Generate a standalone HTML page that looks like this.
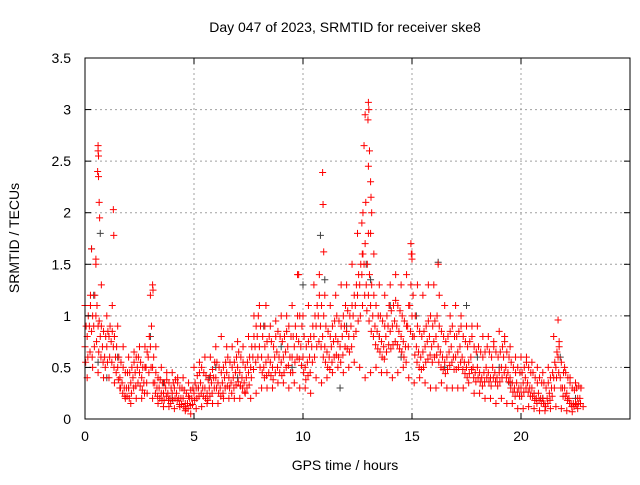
<!DOCTYPE html>
<html><head><meta charset="utf-8"><style>
body{margin:0;background:#fff;width:640px;height:480px;overflow:hidden}
svg{font-family:"Liberation Sans",sans-serif;font-size:14px}
</style></head><body>
<svg id="chart" width="640" height="480">
<text x="345" y="32" text-anchor="middle">Day 047 of 2023, SRMTID for receiver ske8</text>
<text x="345" y="470" text-anchor="middle">GPS time / hours</text>
<text transform="translate(19,238) rotate(-90)" text-anchor="middle">SRMTID / TECUs</text>
<g id="grid"></g><g id="marks"></g><g id="axes"></g>
</svg>
<script>
const xTicks=[0,5,10,15,20];
const yTicks=[0,0.5,1,1.5,2,2.5,3,3.5];
const yTickLabels=["0","0.5","1","1.5","2","2.5","3","3.5"];
const midVals=[0.7,0.8,0.9,0.85,0.9,1.0,0.9,0.8,0.7,0.6,0.7,0.8,0.75,0.7,0.6,0.5,0.4,0.35,0.3,0.3,0.3,0.35,0.4,0.45,0.5,0.45,0.4,0.35,0.5,0.6,0.7,0.5,0.35,0.3,0.3,0.25,0.25,0.3,0.25,0.2,0.25,0.3,0.25,0.2,0.2,0.2,0.15,0.15,0.2,0.2,0.25,0.3,0.3,0.35,0.3,0.3,0.25,0.3,0.35,0.4,0.4,0.35,0.3,0.35,0.4,0.45,0.4,0.35,0.4,0.45,0.5,0.45,0.4,0.35,0.4,0.45,0.5,0.6,0.7,0.8,0.7,0.6,0.5,0.55,0.6,0.55,0.5,0.6,0.65,0.6,0.55,0.6,0.65,0.7,0.6,0.6,0.7,0.8,0.75,0.7,0.6,0.5,0.55,0.6,0.7,0.8,0.9,1.0,0.9,0.8,0.7,0.65,0.6,0.7,0.75,0.8,0.75,0.7,0.8,0.9,0.85,0.8,0.9,1.0,1.1,1.2,1.3,1.4,1.5,1.3,1.2,1.1,1.0,0.9,0.85,0.8,0.75,0.7,0.8,0.9,0.85,0.9,0.95,0.9,0.85,0.8,0.75,0.7,0.9,1.1,1.0,0.8,0.7,0.65,0.6,0.65,0.7,0.75,0.8,0.7,0.75,0.8,0.7,0.65,0.6,0.55,0.6,0.65,0.7,0.6,0.6,0.65,0.7,0.6,0.55,0.5,0.55,0.6,0.5,0.45,0.5,0.45,0.4,0.45,0.5,0.45,0.4,0.5,0.45,0.4,0.45,0.5,0.6,0.5,0.45,0.4,0.35,0.3,0.35,0.3,0.3,0.35,0.4,0.35,0.3,0.3,0.25,0.2,0.25,0.2,0.2,0.15,0.2,0.25,0.3,0.4,0.5,0.6,0.4,0.3,0.3,0.25,0.2,0.15,0.15,0.15,0.2,0.2];
const upperMidVals=[0.9,1.0,1.1,1.0,1.2,1.1,0.95,0.9,0.85,0.8,0.85,0.9,0.85,0.8,0.7,0.6,0.55,0.5,0.45,0.45,0.45,0.5,0.55,0.6,0.6,0.55,0.5,0.5,0.65,0.8,0.9,0.6,0.45,0.4,0.38,0.35,0.35,0.38,0.35,0.3,0.35,0.38,0.35,0.3,0.3,0.28,0.25,0.22,0.28,0.3,0.35,0.42,0.45,0.5,0.45,0.42,0.38,0.42,0.48,0.55,0.55,0.5,0.45,0.5,0.55,0.6,0.55,0.5,0.55,0.6,0.65,0.6,0.55,0.5,0.55,0.6,0.7,0.8,0.9,1.0,0.9,0.8,0.7,0.75,0.8,0.75,0.7,0.8,0.85,0.8,0.75,0.8,0.85,0.9,0.8,0.8,0.9,1.0,1.0,0.9,0.8,0.7,0.75,0.8,0.9,1.0,1.1,1.2,1.1,1.0,0.9,0.85,0.8,0.9,0.95,1.0,0.95,0.9,1.0,1.1,1.05,1.0,1.1,1.2,1.3,1.4,1.5,1.6,1.7,1.5,1.4,1.3,1.2,1.1,1.0,1.0,0.95,0.9,1.0,1.1,1.05,1.1,1.15,1.1,1.05,1.0,0.95,0.9,1.1,1.3,1.2,1.0,0.9,0.85,0.8,0.85,0.9,0.95,1.0,0.9,0.95,1.0,0.9,0.85,0.8,0.75,0.8,0.85,0.9,0.8,0.8,0.85,0.9,0.8,0.75,0.7,0.75,0.8,0.7,0.65,0.7,0.65,0.6,0.65,0.7,0.65,0.6,0.7,0.65,0.6,0.65,0.7,0.75,0.65,0.6,0.55,0.5,0.45,0.5,0.45,0.45,0.5,0.55,0.5,0.45,0.45,0.4,0.35,0.4,0.35,0.35,0.3,0.35,0.4,0.45,0.55,0.65,0.75,0.55,0.45,0.45,0.4,0.35,0.3,0.28,0.3,0.32,0.3];
const lowerMidVals=[0.55,0.6,0.65,0.6,0.7,0.75,0.65,0.6,0.55,0.5,0.55,0.6,0.55,0.5,0.45,0.38,0.3,0.25,0.22,0.22,0.2,0.25,0.3,0.32,0.35,0.32,0.28,0.25,0.35,0.45,0.5,0.35,0.25,0.22,0.2,0.18,0.18,0.22,0.18,0.15,0.18,0.2,0.18,0.14,0.14,0.12,0.1,0.1,0.13,0.14,0.18,0.2,0.22,0.25,0.22,0.2,0.18,0.22,0.25,0.3,0.3,0.25,0.22,0.25,0.3,0.32,0.3,0.25,0.3,0.33,0.36,0.32,0.3,0.26,0.3,0.33,0.4,0.48,0.55,0.6,0.5,0.45,0.4,0.42,0.45,0.42,0.38,0.45,0.5,0.45,0.42,0.45,0.5,0.52,0.45,0.45,0.55,0.6,0.58,0.52,0.45,0.38,0.42,0.45,0.55,0.6,0.7,0.75,0.7,0.6,0.55,0.5,0.48,0.55,0.6,0.62,0.6,0.55,0.62,0.7,0.68,0.65,0.7,0.8,0.85,0.95,1.0,1.1,1.2,1.05,0.95,0.85,0.8,0.72,0.68,0.65,0.6,0.58,0.65,0.72,0.68,0.72,0.75,0.72,0.68,0.65,0.6,0.55,0.7,0.85,0.8,0.62,0.55,0.5,0.48,0.5,0.55,0.58,0.62,0.55,0.6,0.62,0.55,0.5,0.48,0.44,0.48,0.52,0.55,0.48,0.48,0.5,0.55,0.48,0.44,0.4,0.44,0.48,0.4,0.36,0.4,0.36,0.32,0.36,0.4,0.36,0.32,0.4,0.36,0.32,0.36,0.4,0.45,0.4,0.36,0.3,0.26,0.22,0.26,0.22,0.22,0.26,0.3,0.26,0.22,0.22,0.18,0.15,0.18,0.15,0.15,0.12,0.15,0.18,0.22,0.3,0.4,0.45,0.3,0.22,0.22,0.18,0.15,0.12,0.12,0.14,0.15,0.15];
const hiVals=[1.1,1.2,1.5,1.3,1.0,1.1,0.9,0.7,0.6,0.65,0.7,0.7,1.2,0.7,0.5,0.45,0.45,0.4,0.4,0.35,0.5,0.55,0.6,0.6,0.7,0.8,0.7,0.7,0.75,0.7,0.8,1.0,1.1,0.9,0.9,0.95,1.0,1.0,1.1,1.4,1.0,1.1,1.3,1.4,1.2,1.1,1.2,1.3,1.3,1.5,1.8,2.0,1.8,1.6,1.3,1.2,1.3,1.4,1.3,1.4,1.6,1.3,1.2,1.3,1.3,1.2,1.1,1.0,1.1,1.0,0.9,0.9,0.9,0.8,0.8,0.75,0.85,0.8,0.7,0.6,0.6,0.6,0.55,0.5,0.45,0.5,0.8,0.7,0.5,0.4,0.35,0.3];
const loVals=[0.4,0.5,0.45,0.4,0.4,0.35,0.3,0.2,0.15,0.2,0.2,0.25,0.2,0.15,0.12,0.12,0.1,0.12,0.08,0.05,0.1,0.12,0.15,0.15,0.15,0.2,0.2,0.2,0.2,0.25,0.2,0.25,0.3,0.3,0.3,0.35,0.35,0.3,0.35,0.3,0.3,0.25,0.4,0.35,0.4,0.45,0.5,0.45,0.5,0.55,0.5,0.4,0.45,0.5,0.45,0.45,0.4,0.45,0.5,0.4,0.35,0.4,0.35,0.3,0.3,0.35,0.3,0.3,0.3,0.3,0.35,0.25,0.25,0.2,0.2,0.15,0.2,0.15,0.15,0.1,0.1,0.12,0.1,0.08,0.08,0.1,0.12,0.1,0.08,0.07,0.1,0.12];
const spikeT=[0.6,0.6,0.62,0.58,0.62,0.65,0.67,0.5,0.3,1.3,1.32,3.1,3.12,10.9,10.92,10.95,12.85,12.8,12.88,13.0,13.02,12.98,13.05,13.0,13.1,13.12,13.15,13.1,12.7,12.72,14.95,14.97,15.0,16.2,21.7,9.8,8.3];
const spikeV=[2.65,2.6,2.55,2.4,2.35,2.1,1.95,1.55,1.65,2.03,1.78,1.3,1.25,2.39,2.08,1.62,2.95,2.65,2.1,3.07,3.0,2.9,2.6,2.45,2.3,2.15,2.0,1.8,1.9,1.6,1.7,1.6,1.55,1.5,0.96,1.4,1.1];
const darkT=[0.3,0.4,0.7,0.6,1,2,3,4,5.2,6,7,8.2,9,10,10.8,11,12,12.9,13.1,13.5,14,14.5,15.2,16.2,16.5,17.5,18,19,20,21,21.8,22.5,11.7,3.6,1.5,5.7,19.5,9.5];
const darkV=[1.65,1.2,1.8,0.55,0.4,0.3,0.8,0.2,0.3,0.5,0.4,0.9,0.7,1.3,1.78,1.35,0.9,1.5,1.35,0.8,1.1,0.6,1.0,1.52,0.5,1.1,0.6,0.5,0.3,0.2,0.6,0.2,0.3,0.35,0.6,0.4,0.35,0.5];

const L=85,R=630,T=58,B=419,ns="http://www.w3.org/2000/svg";
const xs=v=>L+v/25*(R-L), ys=v=>B-v/3.5*(B-T);
const grid=document.getElementById('grid'),marks=document.getElementById('marks'),axes=document.getElementById('axes');
function mk(tag,at,parent){const e=document.createElementNS(ns,tag);for(const k in at)e.setAttribute(k,at[k]);parent.appendChild(e);return e;}
xTicks.forEach(t=>{const x=xs(t);
 if(t>0){const g=mk('line',{x1:x,y1:T,x2:x,y2:B,stroke:'#a0a0a0','stroke-dasharray':'2,3'},grid);
 
 }
 mk('line',{x1:x,y1:B,x2:x,y2:B-6,stroke:'#000'},axes);mk('line',{x1:x,y1:T,x2:x,y2:T+6,stroke:'#000'},axes);
 const tx=mk('text',{x:x,y:B+22,'text-anchor':'middle'},axes);tx.textContent=t;
 
 });
yTicks.forEach((t,i)=>{const y=ys(t);
 if(t>0&&t<3.5){const g=mk('line',{x1:L,y1:y,x2:R,y2:y,stroke:'#a0a0a0','stroke-dasharray':'2,3'},grid);
 
 }
 mk('line',{x1:L,y1:y,x2:L+6,y2:y,stroke:'#000'},axes);mk('line',{x1:R,y1:y,x2:R-6,y2:y,stroke:'#000'},axes);
 const tx=mk('text',{x:L-14,y:y+5,'text-anchor':'end'},axes);tx.textContent=yTickLabels[i];
 
 });
const fr=mk('rect',{x:L,y:T,width:R-L,height:B-T,fill:'none',stroke:'#000'},axes);


function plus(t,v,c){const x=xs(t),y=ys(v);
 const p=mk('path',{d:`M${x-3.5},${y}h7M${x},${y-3.5}v7`,stroke:c,'stroke-width':1,fill:'none'},marks);
 
 }
darkT.forEach((t,i)=>plus(t,darkV[i],'#404040'));
midVals.forEach((v,i)=>plus(i*0.1,v,'#ff0000'));
upperMidVals.forEach((v,i)=>plus(i*0.1+0.05,v,'#ff0000'));
lowerMidVals.forEach((v,i)=>plus(i*0.1+0.03,v,'#ff0000'));
hiVals.forEach((v,i)=>plus(i*0.25,v,'#ff0000'));
loVals.forEach((v,i)=>plus(i*0.25+0.1,v,'#ff0000'));
spikeT.forEach((t,i)=>plus(t,spikeV[i],'#ff0000'));
</script>
</body></html>
